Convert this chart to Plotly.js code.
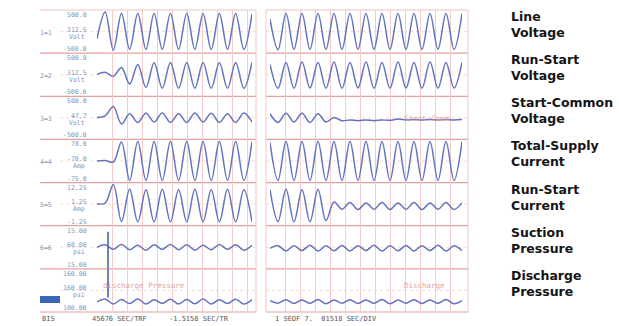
<!DOCTYPE html>
<html><head><meta charset="utf-8">
<script src="https://cdn.plot.ly/plotly-3.0.1.min.js"></script>
<style>html,body{margin:0;padding:0;background:#fff;overflow:hidden}#chart{width:619px;height:326px}</style>
</head><body><div id="chart"></div>
<script>
// ---- data (values normalised to each channel's half-height; one sample per half-cycle) ----
const channelNames = ['Line<br>Voltage','Run-Start<br>Voltage','Start-Common<br>Voltage','Total-Supply<br>Current','Run-Start<br>Current','Suction<br>Pressure','Discharge<br>Pressure'];
const gutterLabels = ['1=1','2=2','3=3','4=4','5=5','6=6',''];
const scaleTop    = ['500.0','500.0','500.0','78.0','12.25','15.00','160.00'];
const scaleMid    = ['312.5','312.5','47.7','-78.0','1.25','60.00','160.00'];
const scaleUnit   = ['Volt','Volt','Volt','Amp','Amp','psi','psi'];
const scaleBottom = ['-500.0','-500.0','-500.0','-75.0','-1.25','15.00','100.00'];
const footerTexts = ['BIS','45676 SEC/TRF','-1.5158 SEC/TR','1 SEOF 7.  01518 SEC/DIV'];

const leftLineVoltage     = [-0.35,0.95,-0.9,0.88,-0.86,0.88,-0.87,0.88,-0.86,0.88,-0.87,0.88,-0.86,0.87,-0.87,0.88,-0.86,0.88,-0.87,0.86];
const leftRunStartVoltage = [0.02,0.12,-0.08,0.35,-0.45,0.5,-0.62,0.58,-0.66,0.6,-0.66,0.6,-0.66,0.6,-0.66,0.58,-0.66,0.6,-0.66,0.6];
const leftStartCommon     = [0.02,0.1,0.55,-0.3,0.2,-0.22,0.22,-0.2,0.24,-0.22,0.2,-0.22,0.24,-0.2,0.22,-0.22,0.2,-0.22,0.24,-0.2];
const leftTotalSupply     = [0,0.02,-0.05,0.92,-0.95,0.95,-0.95,0.95,-0.95,0.95,-0.95,0.95,-0.95,0.95,-0.95,0.95,-0.95,0.95,-0.95,0.95];
const leftRunStartCurrent = [0.02,0.05,0.95,-0.85,0.72,-0.86,0.7,-0.86,0.72,-0.86,0.7,-0.86,0.72,-0.86,0.7,-0.86,0.72,-0.86,0.7,-0.86];
const leftSuction         = [0,0.12,-0.1,0.14,-0.12,0.1,-0.14,0.12,-0.1,0.14,-0.12,0.12,-0.14,0.1,-0.12,0.14,-0.1,0.12,-0.14,0.1];
const leftDischarge       = [-0.55,-0.42,-0.66,-0.44,-0.64,-0.42,-0.66,-0.45,-0.63,-0.43,-0.66,-0.44,-0.65,-0.42,-0.66,-0.45,-0.64,-0.43,-0.66,-0.44];

const rightLineVoltage     = [0.6,-0.88,0.88,-0.87,0.88,-0.86,0.88,-0.87,0.88,-0.86,0.88,-0.87,0.88,-0.86,0.88,-0.87,0.88,-0.86,0.88,-0.87,0.88,-0.86,0.88,-0.87,0.88];
const rightRunStartVoltage = [0.5,-0.66,0.6,-0.66,0.62,-0.65,0.6,-0.66,0.62,-0.66,0.6,-0.65,0.62,-0.66,0.6,-0.66,0.62,-0.65,0.6,-0.66,0.62,-0.66,0.6,-0.65,0.6];
const rightStartCommon     = [0.2,-0.22,0.22,-0.2,0.22,-0.22,0.2,-0.2,0.02,-0.14,-0.1,-0.14,-0.1,-0.14,-0.1,-0.12,-0.06,-0.1,-0.08,-0.1,-0.08,-0.1,-0.08,-0.1,-0.08];
const rightTotalSupply     = [0.9,-0.95,0.95,-0.95,0.95,-0.95,0.95,-0.95,0.95,-0.95,0.95,-0.95,0.95,-0.95,0.95,-0.95,0.95,-0.95,0.95,-0.95,0.95,-0.95,0.95,-0.95,0.95];
const rightRunStartCurrent = [0.7,-0.85,0.72,-0.86,0.7,-0.86,0.72,-0.8,0.1,-0.25,0.08,-0.26,0.06,-0.25,0.08,-0.26,0.06,-0.25,0.08,-0.26,0.06,-0.25,0.08,-0.26,0.06];
const rightSuction         = [-0.05,0.08,-0.18,0.08,-0.16,0.1,-0.18,0.07,-0.17,0.09,-0.18,0.08,-0.16,0.1,-0.18,0.07,-0.17,0.09,-0.18,0.08,-0.16,0.1,-0.18,0.07,-0.17];
const rightDischarge       = [-0.5,-0.62,-0.45,-0.64,-0.46,-0.63,-0.44,-0.65,-0.46,-0.62,-0.45,-0.64,-0.46,-0.63,-0.44,-0.65,-0.46,-0.62,-0.45,-0.64,-0.46,-0.63,-0.44,-0.65,-0.5];

const cursorTime = 1.35;                 // vertical trigger mark, left panel
const cursorSuctionSpan   = [0.75,-1.05];
const cursorDischargeSpan = [1.05,-0.35];

const overlayTexts = [
  {panel:'left', row:6, text:'discharge Pressure', at:0.5, pos:0.25},
  {panel:'right', row:6, text:'Discharge', at:16.5, pos:0.25},
  {panel:'right', row:2, text:'Start-Comm', at:16.5, pos:-0.05}
];

// ---- layout helpers ----
const W = 619, H = 326;
const px = x => x / W, py = y => 1 - y / H;
const TOP = 10, BOT = 312, NROW = 7, RH = (BOT - TOP) / NROW;
const rowTop = r => TOP + r * RH;
const rowMid = r => TOP + (r + 0.5) * RH;

const leftSeries  = [leftLineVoltage,leftRunStartVoltage,leftStartCommon,leftTotalSupply,leftRunStartCurrent,leftSuction,leftDischarge];
const rightSeries = [rightLineVoltage,rightRunStartVoltage,rightStartCommon,rightTotalSupply,rightRunStartCurrent,rightSuction,rightDischarge];

const waveColor = '#6373bd';
const traces = [];
function addWave(series, xa, r) {
  traces.push({x: series.map((_, i) => i), y: series, xaxis: xa, yaxis: r === 0 ? 'y' : 'y' + (r + 1),
    type: 'scatter', mode: 'lines', line: {color: waveColor, width: 1.5, shape: 'spline', smoothing: 1}, hoverinfo: 'skip'});
}
leftSeries.forEach((s, r) => addWave(s, 'x', r));
rightSeries.forEach((s, r) => addWave(s, 'x2', r));
traces.push({x: [cursorTime, cursorTime], y: cursorSuctionSpan, xaxis: 'x', yaxis: 'y6', mode: 'lines', line: {color: '#4a62b8', width: 1.6}, hoverinfo: 'skip'});
traces.push({x: [cursorTime, cursorTime], y: cursorDischargeSpan, xaxis: 'x', yaxis: 'y7', mode: 'lines', line: {color: '#4a62b8', width: 1.6}, hoverinfo: 'skip'});

const layout = {
  width: W, height: H, margin: {l: 0, r: 0, t: 0, b: 0},
  paper_bgcolor: '#fff', plot_bgcolor: 'rgba(0,0,0,0)', showlegend: false,
  xaxis:  {domain: [px(97), px(252)], range: [0, 19], showgrid: true, gridcolor: '#f4cccc', gridwidth: 1, tick0: 0, dtick: 1.84, showticklabels: false, zeroline: false, ticks: ''},
  xaxis2: {domain: [px(270), px(462)], range: [0, 24], showgrid: true, gridcolor: '#f4cccc', gridwidth: 1, tick0: 0, dtick: 1.875, showticklabels: false, zeroline: false, ticks: ''},
  shapes: [], annotations: []
};
for (let r = 0; r < NROW; r++) {
  const key = r === 0 ? 'yaxis' : 'yaxis' + (r + 1);
  layout[key] = {domain: [py(rowTop(r + 1)), py(rowTop(r))], range: [-1.05, 1.05], showgrid: false,
    zeroline: false, showticklabels: false, ticks: '', anchor: 'x', fixedrange: true};
}
// row boundary lines
for (let i = 0; i <= NROW; i++) {
  const y = py(rowTop(i));
  const col = i === 0 ? '#f2c4c4' : '#e6a0a0';
  layout.shapes.push({type: 'line', xref: 'paper', yref: 'paper', x0: px(40), x1: px(256), y0: y, y1: y, line: {color: col, width: 1.2}, layer: 'below'});
  layout.shapes.push({type: 'line', xref: 'paper', yref: 'paper', x0: px(266), x1: px(468), y0: y, y1: y, line: {color: col, width: 1.2}, layer: 'below'});
}
// faint centre lines
for (let r = 0; r < NROW; r++) {
  const y = py(rowMid(r));
  layout.shapes.push({type: 'line', xref: 'paper', yref: 'paper', x0: px(60), x1: px(256), y0: y, y1: y, line: {color: '#f6dada', width: 1, dash: 'dot'}, layer: 'below'});
  layout.shapes.push({type: 'line', xref: 'paper', yref: 'paper', x0: px(266), x1: px(468), y0: y, y1: y, line: {color: '#f6dada', width: 1, dash: 'dot'}, layer: 'below'});
}
// panel edges
[256, 266, 468].forEach(x => layout.shapes.push({type: 'line', xref: 'paper', yref: 'paper', x0: px(x), x1: px(x), y0: py(BOT), y1: py(TOP), line: {color: '#f1c6c6', width: 1}, layer: 'below'}));
// blue marker in gutter of last row
layout.shapes.push({type: 'rect', xref: 'paper', yref: 'paper', x0: px(40), x1: px(60), y0: py(303), y1: py(296), fillcolor: '#3a66b8', line: {width: 0}});

const small = {family: 'DejaVu Sans Mono', size: 6.5, color: '#8894b6'};
for (let r = 0; r < NROW; r++) {
  layout.annotations.push({xref: 'paper', yref: 'paper', x: px(509), y: py(rowMid(r) - 7), xanchor: 'left', yanchor: 'middle', align: 'left',
    text: channelNames[r], showarrow: false, font: {family: 'DejaVu Sans', size: 12.5, color: '#141414', weight: 'bold'}});
  if (gutterLabels[r]) layout.annotations.push({xref: 'paper', yref: 'paper', x: px(46), y: py(rowMid(r) + 1), xanchor: 'center', yanchor: 'middle', text: gutterLabels[r], showarrow: false, font: small});
  layout.annotations.push({xref: 'paper', yref: 'paper', x: px(89), y: py(rowTop(r) + 5), xanchor: 'right', yanchor: 'middle', text: scaleTop[r], showarrow: false, font: small});
  layout.annotations.push({xref: 'paper', yref: 'paper', x: px(89), y: py(rowMid(r) - 2), xanchor: 'right', yanchor: 'middle', text: scaleMid[r], showarrow: false, font: small});
  layout.annotations.push({xref: 'paper', yref: 'paper', x: px(87), y: py(rowMid(r) + 5), xanchor: 'right', yanchor: 'middle', text: scaleUnit[r], showarrow: false, font: small});
  layout.annotations.push({xref: 'paper', yref: 'paper', x: px(89), y: py(rowTop(r + 1) - 4), xanchor: 'right', yanchor: 'middle', text: scaleBottom[r], showarrow: false, font: small});
}
overlayTexts.forEach(o => {
  const yk = o.row === 0 ? 'y' : 'y' + (o.row + 1);
  layout.annotations.push({xref: o.panel === 'left' ? 'x' : 'x2', yref: yk, x: o.at, y: o.pos, xanchor: 'left', yanchor: 'middle',
    text: o.text, showarrow: false, font: {family: 'DejaVu Sans Mono', size: 7.5, color: '#e2a4a4'}});
});
const footFont = {family: 'DejaVu Sans Mono', size: 7, color: '#555'};
[[40, 0], [90, 1], [167, 2], [273, 3]].forEach(([x, i]) => layout.annotations.push({xref: 'paper', yref: 'paper', x: px(x), y: py(319), xanchor: 'left', yanchor: 'middle', text: footerTexts[i], showarrow: false, font: footFont}));

Plotly.newPlot('chart', traces, layout, {staticPlot: true, displayModeBar: false});
</script></body></html>
